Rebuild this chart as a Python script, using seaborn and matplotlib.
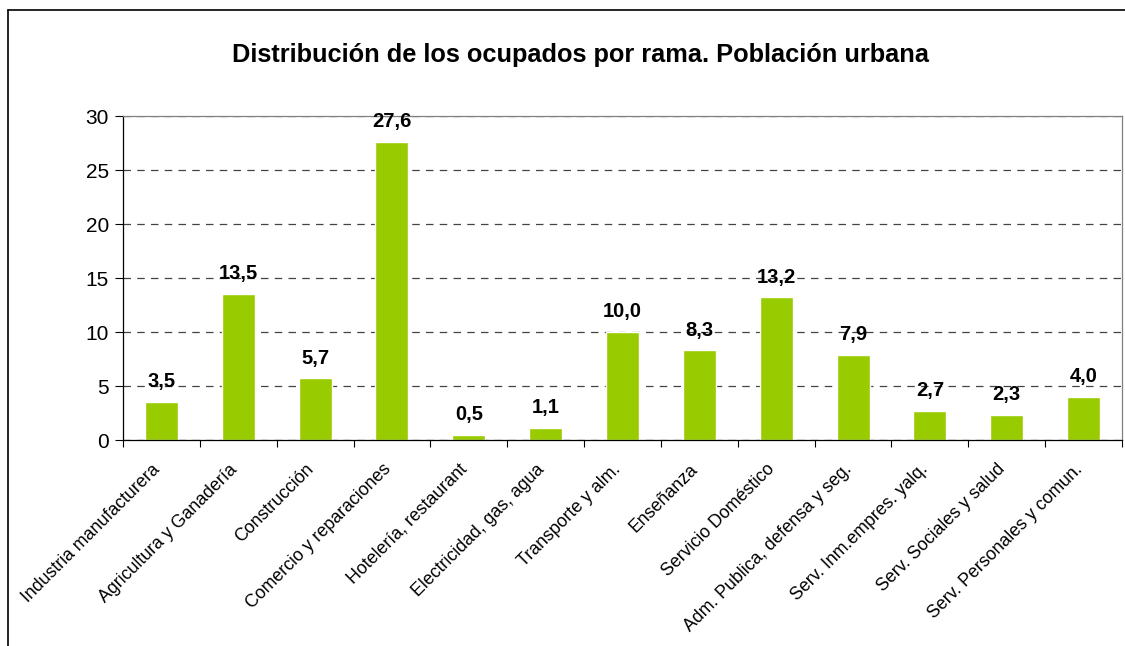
import numpy as np
import matplotlib
matplotlib.use("Agg")
import matplotlib.pyplot as plt
import matplotlib.transforms as mtransforms
import seaborn as sns

ramas = ["Industria manufacturera", "Agricultura y Ganadería", "Construcción",
         "Comercio y reparaciones", "Hotelería, restaurant", "Electricidad, gas, agua",
         "Transporte y alm.", "Enseñanza", "Servicio Doméstico",
         "Adm. Publica, defensa y seg.", "Serv. Inm.empres. yalq.",
         "Serv. Sociales y salud", "Serv. Personales y comun."]
valores = [3.5, 13.5, 5.7, 27.6, 0.5, 1.1, 10.0, 8.3, 13.2, 7.9, 2.7, 2.3, 4.0]
etiquetas = ["3,5", "13,5", "5,7", "27,6", "0,5", "1,1", "10,0", "8,3", "13,2",
             "7,9", "2,7", "2,3", "4,0"]

sns.set_style("white")
plt.rcParams['font.family'] = ['Liberation Sans', 'DejaVu Sans']
plt.rcParams['text.color'] = 'black'
plt.rcParams['xtick.color'] = 'black'
plt.rcParams['ytick.color'] = 'black'

fig = plt.figure(figsize=(11.25, 6.46), dpi=100)
ax = fig.add_axes([123/1125, 1 - 440/646, (1122 - 123)/1125, (440 - 116)/646])

sns.barplot(x=ramas, y=valores, color="#99CC00", width=0.43, saturation=1, ax=ax)

for i, (v, t) in enumerate(zip(valores, etiquetas)):
    ax.text(i, v + 1.0, t, ha="center", va="bottom", fontsize=14.5, fontweight="bold")

ax.set_ylim(0, 30)
ax.set_xlim(-0.5, len(ramas) - 0.5)
ax.set_yticks(range(0, 31, 5))
ax.yaxis.grid(True, linestyle=(0, (6, 5)), color="#444444", linewidth=0.9)
ax.set_axisbelow(True)

ax.set_xticks(range(len(ramas)))
ax.set_xticklabels(ramas, rotation=45, ha="right", rotation_mode="anchor", fontsize=12.8)
ax.tick_params(axis="x", which="major", length=0, pad=15)
# correr un poco las etiquetas hacia la izquierda
desplaza = mtransforms.ScaledTranslation(-10/100, 0, fig.dpi_scale_trans)
for lbl in ax.get_xticklabels():
    lbl.set_transform(lbl.get_transform() + desplaza)
ax.set_xticks(np.arange(-0.5, len(ramas), 1), minor=True)
ax.tick_params(axis="x", which="minor", length=5, color="black", width=0.8, direction="out", bottom=True)
ax.tick_params(axis="y", length=6, color="black", width=0.8, direction="out", left=True, labelsize=15, pad=4)

for s in ["left", "bottom"]:
    ax.spines[s].set_color("black")
    ax.spines[s].set_linewidth(0.9)
for s in ["top", "right"]:
    ax.spines[s].set_color("#808080")
    ax.spines[s].set_linewidth(0.9)

fig.text(580/1125, 1 - 55/646, "Distribución de los ocupados por rama. Población urbana",
         ha="center", va="center", fontsize=18.3, fontweight="bold")

# marco exterior del gráfico
fig.add_artist(plt.Line2D([8/1125, 8/1125], [0, 1 - 10/646], transform=fig.transFigure,
                          color="black", linewidth=1.2))
fig.add_artist(plt.Line2D([8/1125, 1], [1 - 10/646, 1 - 10/646], transform=fig.transFigure,
                          color="black", linewidth=1.2))

plt.savefig("out.png", dpi=100)
